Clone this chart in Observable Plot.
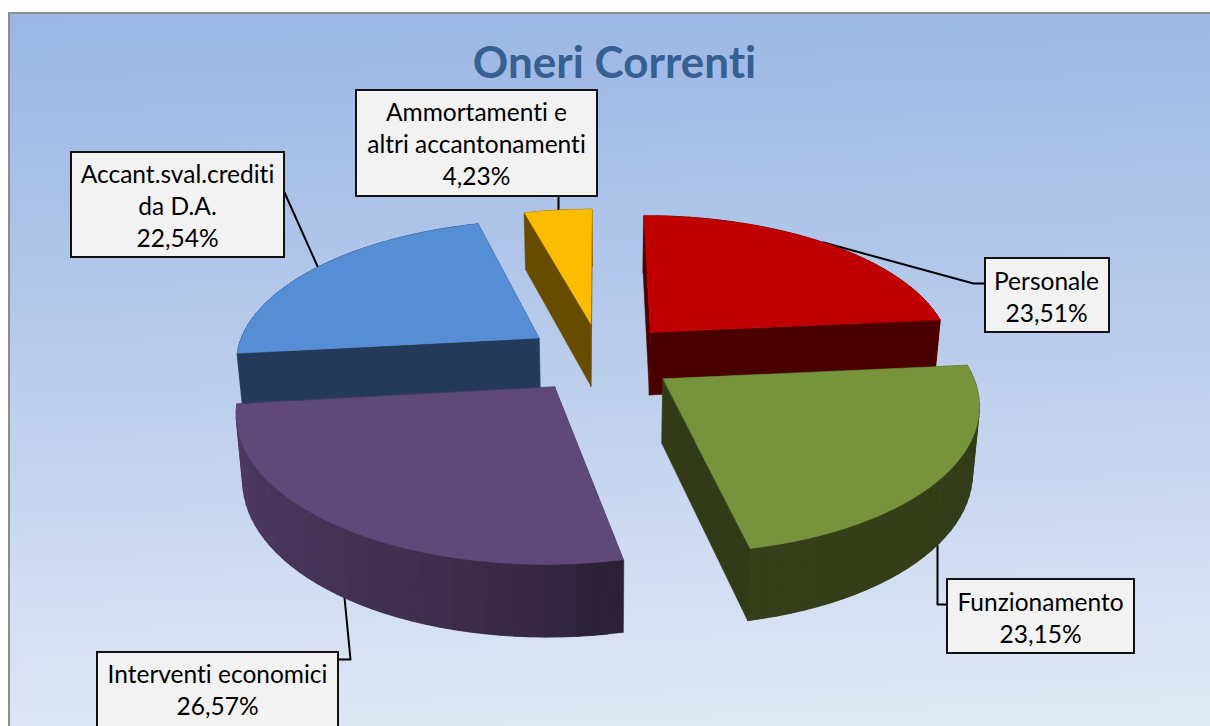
<!DOCTYPE html>
<html>
<head>
<meta charset="utf-8">
<script src="https://cdn.jsdelivr.net/npm/d3@7"></script>
<script src="https://cdn.jsdelivr.net/npm/@observablehq/plot@0.6"></script>
<style>
html,body{margin:0;padding:0;background:#fff;width:1210px;height:726px;overflow:hidden}
#bg{position:absolute;left:8px;top:12px;right:0;bottom:0;border-left:2px solid #8c8c8c;border-top:2px solid #8c8c8c;
background:linear-gradient(178deg,#9bb6e4 0%,#b4c8ea 40%,#cfdcf2 75%,#e2e9f6 100%)}
#chart{position:absolute;left:0;top:0}
svg{background:transparent!important;display:block}
svg text{font-variant-ligatures:none}
</style>
</head>
<body>
<div id="bg"></div>
<div id="chart"></div>
<script>
// ---- data ----
const title = "Oneri Correnti";
const categories = ["Personale", "Funzionamento", "Interventi economici", "Accant.sval.crediti da D.A.", "Ammortamenti e altri accantonamenti"];
const values = [23.51, 23.15, 26.57, 22.54, 4.23];
const valueLabels = ["23,51%", "23,15%", "26,57%", "22,54%", "4,23%"];
const labelLines = ["Personale", "Funzionamento", "Interventi economici", "Accant.sval.crediti\nda D.A.", "Ammortamenti e\naltri accantonamenti"];

// ---- styles ----
const topColors = ["#c00000", "#77933c", "#5f497a", "#558ed5", "#fcbc00"];
const wallFrom = ["#4d0000", "#313b17", "#2d2138", "#243a59", "#6b4f00"];
const wallTo = ["#4d0000", "#353f19", "#523c66", "#243a59", "#6b4f00"];
const cutColors = ["#4b0000", "#313b17", "#2d2138", "#243a59", "#674c00"];

// ---- pie projection parameters ----
const cx = 600, cy = 357, kx = 304, ky = 141, persp = 0.15;
const explode = 0.25, depth = 64, depthPersp = 0.1, converge = 0.018;
const project = (u, v, bottom) => {
  const w = 1 - persp * v;
  let sx = cx + kx * u / w, sy = cy + ky * v / w;
  if (bottom) { sx = cx + (sx - cx) * (1 - converge); sy += depth / (1 - depthPersp * v); }
  return [sx, sy];
};

// ---- slices built from the values ----
const total = d3.sum(values);
let acc = 0;
const slices = values.map((val, i) => {
  const a0 = acc / total * 2 * Math.PI; acc += val;
  const a1 = acc / total * 2 * Math.PI;
  const mid = (a0 + a1) / 2;
  return {i, a0, a1, ou: Math.sin(mid) * explode, ov: -Math.cos(mid) * explode};
});
const pt = (s, a) => [s.ou + Math.sin(a), s.ov - Math.cos(a)];
let faceId = 0;
function addFace(list, pts, color) { list.push({pts, color, id: faceId++, v: d3.mean(pts, p => p[1])}); }
const paintOrder = [4, 3, 0, 2, 1];
const rows = [];
for (const i of paintOrder) {
  const s = slices[i], list = [];
  const apex = [s.ou, s.ov];
  const n = Math.ceil((s.a1 - s.a0) / (2.5 * Math.PI / 180));
  const arc = d3.range(n + 1).map(j => pt(s, s.a0 + (s.a1 - s.a0) * j / n));
  const shade = d3.interpolateRgb(wallFrom[i], wallTo[i]);
  // wall strips overlap the next strip and are painted in arc order so that no seams show
  const walls = [];
  for (let j = 0; j < n; j++) {
    const a = arc[j], b = arc[Math.min(j + 2, n)];
    const t = Math.min(1, Math.floor(j / 2) * 2 / Math.max(1, n - 1));
    addFace(walls, [[...a, false], [...b, false], [...b, true], [...a, true]], d3.rgb(shade(Math.pow(t, 0.6))).formatHex());
  }
  addFace(list, [[...apex, false], [...arc[0], false], [...arc[0], true], [...apex, true]], cutColors[i]);
  addFace(list, [[...apex, false], [...arc[n], false], [...arc[n], true], [...apex, true]], cutColors[i]);
  list.sort((a, b) => a.v - b.v);
  const ordered = [list[0], ...walls.slice().reverse(), list[1]];
  addFace(ordered, [[...apex, false], ...arc.map(p => [p[0], p[1], false])], topColors[i]);
  for (const f of ordered) for (const p of f.pts) {
    const [x, y] = project(p[0], p[1], p[2]);
    rows.push({x, y, id: f.id, color: f.color});
  }
}

// ---- annotation layout (boxes and leaders) ----
const boxes = [
  {i: 0, x1: 985, x2: 1109, y1: 258, y2: 332},
  {i: 1, x1: 947, x2: 1134, y1: 579, y2: 653},
  {i: 2, x1: 97, x2: 338, y1: 652, y2: 730},
  {i: 3, x1: 71, x2: 284, y1: 152, y2: 257},
  {i: 4, x1: 356, x2: 597, y1: 90, y2: 196}
];
const textRows = [
  {i: 0, cxx: 1046, cyy: 295},
  {i: 1, cxx: 1040, cyy: 616},
  {i: 2, cxx: 217, cyy: 688},
  {i: 3, cxx: 177, cyy: 204},
  {i: 4, cxx: 476, cyy: 142}
].map(d => ({x: d.cxx, y: d.cyy, text: labelLines[d.i] + "\n" + valueLabels[d.i]}));
const leaders = [
  {id: 0, path: [[985, 283], [973, 283], [823, 242]]},
  {id: 1, path: [[947, 604], [937, 604], [937, 545]]},
  {id: 2, path: [[338, 659], [350, 659], [344, 597]]},
  {id: 3, path: [[284, 192], [318, 268]]},
  {id: 4, path: [[558, 196], [558, 214]]}
].flatMap(l => l.path.map(([x, y]) => ({x, y, id: l.id})));

const plot = Plot.plot({
  width: 1210, height: 726,
  marginTop: 0, marginRight: 0, marginBottom: 0, marginLeft: 0,
  x: {domain: [0, 1210], range: [0, 1210], axis: null},
  y: {domain: [0, 726], range: [0, 726], axis: null},
  color: {type: "identity"},
  style: {background: "transparent", fontFamily: "Lato"},
  marks: [
    Plot.line(leaders, {x: "x", y: "y", z: "id", stroke: "#000", strokeWidth: 2, curve: "linear"}),
    Plot.line(rows, {x: "x", y: "y", z: "id", fill: "color", stroke: "color", strokeWidth: 0.5, curve: "linear-closed"}),
    Plot.rect(boxes, {x1: "x1", x2: "x2", y1: "y1", y2: "y2", fill: "#f2f2f2", stroke: "#111", strokeWidth: 2}),
    Plot.text(textRows, {x: "x", y: "y", text: "text", fontSize: 24.5, lineHeight: 1.31, fill: "#000", fontFamily: "Lato", textAnchor: "middle"}),
    Plot.text([title], {x: () => 614, y: () => 63, text: d => d, fontSize: 44, fontWeight: 700, fill: "#376092", fontFamily: "Lato", textAnchor: "middle"})
  ]
});
document.getElementById("chart").append(plot);
</script>
</body>
</html>
